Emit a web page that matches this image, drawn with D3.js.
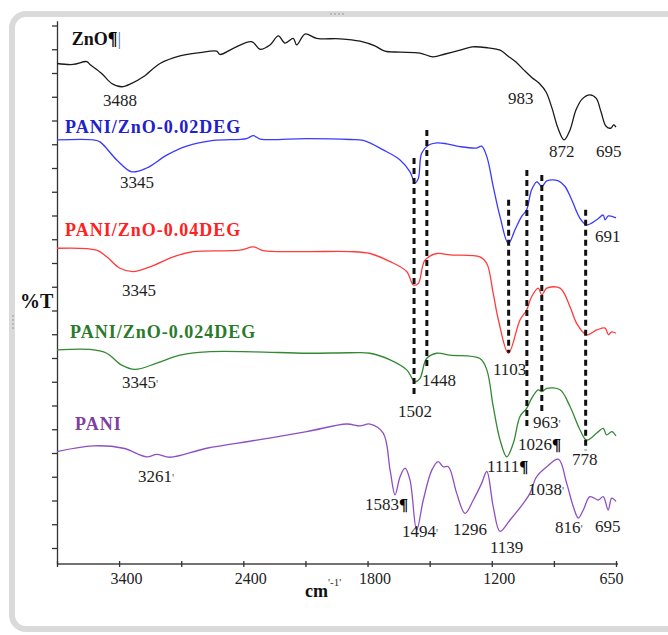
<!DOCTYPE html>
<html><head><meta charset="utf-8">
<script src="https://cdn.jsdelivr.net/npm/d3@7"></script>
<style>body{margin:0;background:#fff}svg{display:block}</style>
</head><body>
<svg id="c" width="668" height="635"></svg>
<script>
// ---- data: [wavenumber cm-1, %T (offset, arbitrary units)] ----
const zno = [[4000,102.0],[3866,101.8],[3751,102.4],[3724,101.8],[3626,99.9],[3542,97.8],[3459,97.1],[3375,97.8],[3278,99.2],[3138,102.0],[2971,103.6],[2803,104.3],[2664,104.6],[2636,103.9],[2525,105.2],[2371,106.6],[2301,105.0],[2218,105.9],[2148,107.8],[2092,106.3],[2023,107.3],[1997,105.9],[1962,108.2],[1913,107.3],[1814,107.2],[1730,106.7],[1667,105.7],[1625,104.6],[1561,104.4],[1477,104.2],[1422,103.4],[1371,104.0],[1308,104.8],[1257,105.5],[1190,105.3],[1139,104.8],[1106,103.6],[1072,102.3],[1038,100.6],[1004,99.0],[971,97.7],[945,96.0],[920,92.6],[895,88.4],[869,85.9],[844,88.0],[819,92.2],[793,94.5],[760,95.4],[734,94.7],[713,91.8],[692,88.8],[671,88.4],[660,89.1],[650,88.6]];
const pani002 = [[4000,85.9],[3696,85.9],[3640,85.5],[3500,81.7],[3375,79.2],[3249,80.0],[3082,82.7],[2915,84.6],[2692,85.8],[2413,86.2],[2357,86.8],[2301,86.1],[1955,86.2],[1772,86.0],[1716,85.8],[1632,83.8],[1561,81.7],[1519,79.2],[1498,76.9],[1484,77.8],[1470,83.1],[1442,84.8],[1406,85.3],[1364,85.1],[1308,84.5],[1238,84.2],[1217,84.6],[1195,82.4],[1168,76.1],[1139,69.7],[1104,64.1],[1076,67.0],[1048,69.8],[1027,71.2],[1006,75.4],[984,77.1],[963,76.1],[942,77.3],[893,77.3],[865,76.1],[837,73.3],[802,69.4],[774,68.0],[731,69.1],[704,70.1],[696,69.1],[682,69.9],[650,69.5]];
const pani004 = [[4000,63.1],[3668,62.7],[3584,61.3],[3473,58.9],[3362,58.2],[3222,59.2],[3027,61.3],[2859,62.4],[2469,62.7],[2357,63.4],[2274,62.6],[1955,62.4],[1772,62.4],[1688,62.0],[1603,60.3],[1533,58.2],[1505,55.4],[1484,55.7],[1456,60.6],[1406,62.0],[1350,61.7],[1224,61.3],[1195,59.9],[1168,53.6],[1146,48.0],[1104,41.0],[1055,48.0],[1027,50.1],[1006,52.9],[978,54.7],[963,53.3],[942,54.7],[886,54.7],[844,50.8],[816,47.3],[774,44.9],[731,45.9],[696,46.3],[682,44.9],[668,45.5],[650,45.2]];
const pani0024 = [[4000,41.7],[3724,41.8],[3584,41.0],[3459,38.5],[3347,37.6],[3166,38.9],[2971,40.6],[2747,41.3],[2357,41.3],[1955,41.0],[1772,41.1],[1688,41.0],[1603,39.6],[1533,37.5],[1498,35.0],[1477,35.7],[1449,39.9],[1406,41.0],[1350,40.6],[1224,39.9],[1195,37.5],[1168,29.8],[1139,22.7],[1111,19.2],[1083,22.1],[1055,27.7],[1027,29.4],[1006,31.5],[978,33.3],[963,32.9],[942,33.6],[886,33.3],[844,29.8],[802,24.9],[774,22.7],[731,24.2],[704,25.2],[690,23.8],[668,24.5],[650,23.6]];
const pani = [[4000,20.3],[3696,21.5],[3445,21.0],[3249,19.2],[3166,19.7],[3054,19.1],[2747,21.0],[2329,22.7],[1955,24.5],[1786,26.1],[1730,25.7],[1688,26.1],[1632,24.2],[1603,16.4],[1582,11.2],[1561,15.0],[1540,16.8],[1519,14.3],[1491,3.8],[1463,10.1],[1427,16.4],[1400,18.2],[1379,17.1],[1357,17.1],[1322,11.5],[1287,7.3],[1252,10.1],[1217,13.6],[1195,16.1],[1168,8.7],[1139,3.5],[1097,5.9],[1041,9.4],[1013,11.5],[985,15.0],[942,17.1],[893,18.7],[858,13.6],[830,8.7],[809,6.3],[788,8.0],[760,10.8],[725,10.1],[704,10.8],[683,8.0],[668,10.5],[650,9.8]];

const seriesNames = ["ZnO","PANI/ZnO-0.02DEG","PANI/ZnO-0.04DEG","PANI/ZnO-0.024DEG","PANI"];
const seriesColors = ["#1a1a1a","#3a3aff","#ff3b3b","#338833","#8e4fc0"];
const labelColors  = ["#111111","#2020cc","#ff2020","#2b7a2b","#7f3f9f"];
// label anchors: [wavenumber, %T]
const seriesLabelAt = [[3877,105.9],[3933,87.4],[3933,65.7],[3891,44.2],[3849,24.9]];

// dashed marker lines: [wavenumber, %T top, %T bottom]
const markers = [[1502,82.1,32.0],[1448,88.0,37.5],[1103,73.3,41.1],[1026,79.6,24.9],[963,78.5,28.4],[778,71.2,20.6]];

// peak labels: [text, suffix, wavenumber at left edge, %T baseline]
const peaks = [
 ["3488","",3615,93.1],["983","",1106,93.5],["872","",933,82.3],["695","",734,82.3],
 ["3345","",3473,75.8],["691","",739,64.4],
 ["3345","",3456,53.0],
 ["3345","'",3456,33.7],["1502","",1570,27.6],["1448","",1468,34.1],["1103","",1169,36.4],
 ["963","'",1000,25.3],["1026","¶",1063,20.6],["778","",836,17.5],["1111","¶",1194,16.0],
 ["3261","'",3322,13.9],["1038","'",1021,11.2],["1583","¶",1709,8.0],["1494","'",1553,2.3],
 ["1296","",1338,2.7],["1139","",1182,-1.0],["816","'",907,3.2],["695","",739,3.4]
];

const xTickLabels = ["3400","2400","1800","1200","650"];
const xTickSlots = 10;
const yTickValues = d3.range(0,111,5);

// ---- drawing ----
const svg = d3.select("#c");
const serif = "'Liberation Serif','Times New Roman',serif";

// frame
svg.append("rect").attr("x",12).attr("y",14).attr("width",670).attr("height",615)
  .attr("rx",14).attr("fill","#fff").attr("stroke","#dadada").attr("stroke-width",6);
[[330,13],[334,13],[338,13],[342,13]].forEach(p=>svg.append("rect").attr("x",p[0]).attr("y",p[1]).attr("width",2).attr("height",2).attr("fill","#b8b8b8"));
[[12,315],[12,319],[12,323],[12,327]].forEach(p=>svg.append("rect").attr("x",p[0]).attr("y",p[1]).attr("width",2).attr("height",2).attr("fill","#b8b8b8"));

const x = d3.scaleLinear().domain([4000,2000,650]).range([57,296,616]);
const y = d3.scaleLinear().domain([-3.37,111]).range([564,20.75]);
const xSlot = d3.scaleLinear().domain([0,xTickSlots-1]).range([57,616]);

// y axis
const ya = svg.append("g").attr("transform","translate(57,0)")
  .call(d3.axisLeft(y).tickValues(yTickValues).tickSize(5).tickSizeOuter(0).tickFormat(""));
ya.selectAll("path,line").attr("stroke","#333").attr("stroke-width",1.3);

// x axis
const xa = svg.append("g").attr("transform","translate(0,564)")
  .call(d3.axisBottom(xSlot).tickValues(d3.range(xTickSlots)).tickSizeOuter(0)
  .tickFormat(i => i%2===1 ? xTickLabels[(i-1)/2] : ""));
xa.select(".domain").attr("stroke","#444").attr("stroke-width",1.6).attr("d","M57,0H618");
xa.selectAll(".tick line").attr("y1",-3).attr("y2",3).attr("stroke","#333").attr("stroke-width",1.3);
xa.selectAll(".tick text").attr("y",20).attr("dy",0).attr("dx",7)
  .attr("font-family",serif).attr("font-size",16).attr("fill","#222")
  .attr("text-anchor",(d)=> d===xTickSlots-1 ? "end":"middle");

// axis titles
svg.append("text").attr("x",20).attr("y",308).attr("font-family",serif).attr("font-weight","bold")
  .attr("font-size",20).attr("fill","#111").text("%T");
const ct = svg.append("text").attr("x",305).attr("y",597).attr("font-family",serif).attr("fill","#111");
ct.append("tspan").attr("font-weight","bold").attr("font-size",18).text("cm");
ct.append("tspan").attr("font-size",11).attr("dy",-11).attr("fill","#333").text("'-1'");

// spectra
const line = d3.line().x(d=>x(d[0])).y(d=>y(d[1])).curve(d3.curveCatmullRom.alpha(0.5));
[zno,pani002,pani004,pani0024,pani].forEach((s,i)=>{
  svg.append("path").datum(s).attr("d",line).attr("fill","none")
    .attr("stroke",seriesColors[i]).attr("stroke-width",1.3).attr("stroke-linejoin","round");
});

// dashed markers
svg.append("g").selectAll("line").data(markers).join("line")
  .attr("x1",d=>x(d[0])).attr("x2",d=>x(d[0])).attr("y1",d=>y(d[1])).attr("y2",d=>y(d[2]))
  .attr("stroke","#111").attr("stroke-width",3).attr("stroke-dasharray","6,4");

// series labels
seriesNames.forEach((n,i)=>{
  const t = svg.append("text").attr("x",x(seriesLabelAt[i][0])).attr("y",y(seriesLabelAt[i][1]))
    .attr("font-family",serif).attr("font-weight","bold").attr("font-size",18)
    .attr("letter-spacing", i===0?0:1).attr("fill",labelColors[i]);
  t.append("tspan").text(n);
  if(i===0){ t.append("tspan").attr("fill","#000").text("¶");
    t.append("tspan").attr("fill","#4a6fd8").attr("font-weight","normal").text("|"); }
});

// peak labels
svg.append("g").selectAll("text").data(peaks).join("text")
  .attr("x",d=>x(d[2])).attr("y",d=>y(d[3]))
  .attr("font-family",serif).attr("font-size",17).attr("fill","#1e1e1e")
  .each(function(d){
    const t=d3.select(this);
    t.append("tspan").text(d[0]);
    if(d[1]==="¶") t.append("tspan").attr("font-weight","bold").attr("fill","#000").text("¶");
    else if(d[1]) t.append("tspan").attr("font-size",12).attr("fill","#666").text(d[1]);
  });
</script>
</body></html>
